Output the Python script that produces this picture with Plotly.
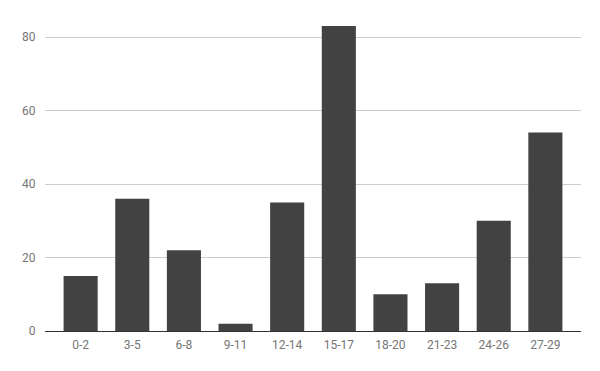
import plotly.graph_objects as go

categories = ["0-2", "3-5", "6-8", "9-11", "12-14", "15-17", "18-20", "21-23", "24-26", "27-29"]
values = [15, 36, 22, 2, 35, 83, 10, 13, 30, 54]
y_ticks = [0, 20, 40, 60, 80]

fig = go.Figure(go.Bar(x=categories, y=values, marker=dict(color="#424242", line=dict(width=0))))
fig.update_layout(
    width=600, height=371,
    margin=dict(l=37, r=27, t=7, b=48),
    paper_bgcolor="white", plot_bgcolor="white",
    bargap=0.34,
    showlegend=False,
    font=dict(family="Roboto", size=12, color="#757575"),
)
fig.update_xaxes(range=[-0.69, 9.69], showgrid=False, showline=True, linecolor="#333333", linewidth=1,
                 ticks="outside", ticklen=3, tickcolor="rgba(0,0,0,0)",
                 tickfont=dict(size=12, color="#757575"))
fig.update_yaxes(range=[0, 86], tickvals=y_ticks, showgrid=True, gridcolor="#cccccc", gridwidth=1,
                 zeroline=True, zerolinecolor="#333333", zerolinewidth=1, showline=False,
                 ticks="outside", ticklen=6, tickcolor="rgba(0,0,0,0)", tickfont=dict(size=12, color="#757575"))
fig.write_html("out.html")
